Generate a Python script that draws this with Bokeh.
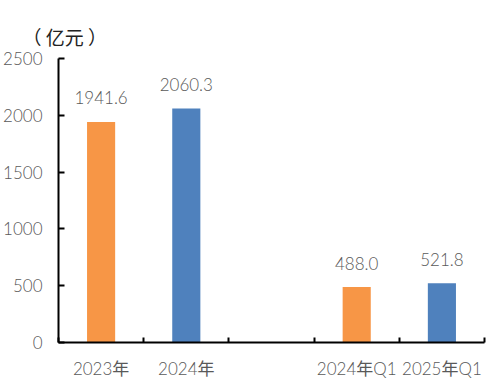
from bokeh.plotting import figure
from bokeh.models import Range1d, FixedTicker
from bokeh.core.properties import value
from bokeh.embed import file_html
from bokeh.resources import INLINE

categories = ["2023年", "2024年", "", "2024年Q1", "2025年Q1"]
values = [1941.6, 2060.3, None, 488.0, 521.8]
colors = ["#F79646", "#4F81BD", None, "#F79646", "#4F81BD"]
y_ticks = [0, 500, 1000, 1500, 2000, 2500]
unit_label = "（ 亿元 ）"

FONT = "'Lato Light', Lato, 'Noto Sans CJK SC', sans-serif"
GREY = "#595959"

p = figure(frame_width=426, frame_height=284,
           output_backend="svg", toolbar_location=None,
           x_range=Range1d(0, len(categories)), y_range=Range1d(0, 2500),
           min_border_left=52, min_border_right=10, min_border_top=58, min_border_bottom=30)

xs = [i + 0.5 for i, v in enumerate(values) if v is not None]
ys = [v for v in values if v is not None]
cs = [c for v, c in zip(values, colors) if v is not None]
labels = ["%.1f" % v for v in ys]

p.vbar(x=xs, top=ys, width=0.33, bottom=0, fill_color=cs, line_color=None)
p.text(x=xs, y=ys, text=labels, text_align="center", text_baseline="alphabetic",
       y_offset=-24, text_font=value(FONT), text_font_size="17px", text_color=GREY)

p.xgrid.visible = False
p.ygrid.visible = False
p.outline_line_color = None

xa = p.xaxis[0]
xa.ticker = FixedTicker(ticks=[i + 0.5 for i in range(len(categories))],
                        minor_ticks=list(range(len(categories) + 1)))
xa.major_label_overrides = {i + 0.5: c for i, c in enumerate(categories)}
xa.major_tick_in = 0
xa.major_tick_out = 0
xa.minor_tick_in = 5
xa.minor_tick_out = 0
xa.minor_tick_line_color = "black"
xa.minor_tick_line_width = 2
xa.axis_line_color = "black"
xa.axis_line_width = 2
xa.major_label_text_font = FONT
xa.major_label_text_font_size = "17px"
xa.major_label_text_color = GREY
xa.major_label_standoff = 15

ya = p.yaxis[0]
ya.ticker = FixedTicker(ticks=y_ticks, minor_ticks=[])
ya.major_tick_in = 6
ya.major_tick_out = 0
ya.major_tick_line_color = "black"
ya.major_tick_line_width = 2
ya.axis_line_color = "black"
ya.axis_line_width = 2
ya.major_label_text_font = FONT
ya.major_label_text_font_size = "17px"
ya.major_label_text_color = GREY
ya.major_label_standoff = 16

p.title.text = unit_label
p.title.align = "left"
p.title.offset = -36
p.title.text_font = "'Noto Sans CJK SC', sans-serif"
p.title.text_font_size = "19px"
p.title.text_font_style = "normal"
p.title.text_color = "#222222"
p.title.standoff = 17

open("out.html", "w").write(file_html(p, INLINE))
